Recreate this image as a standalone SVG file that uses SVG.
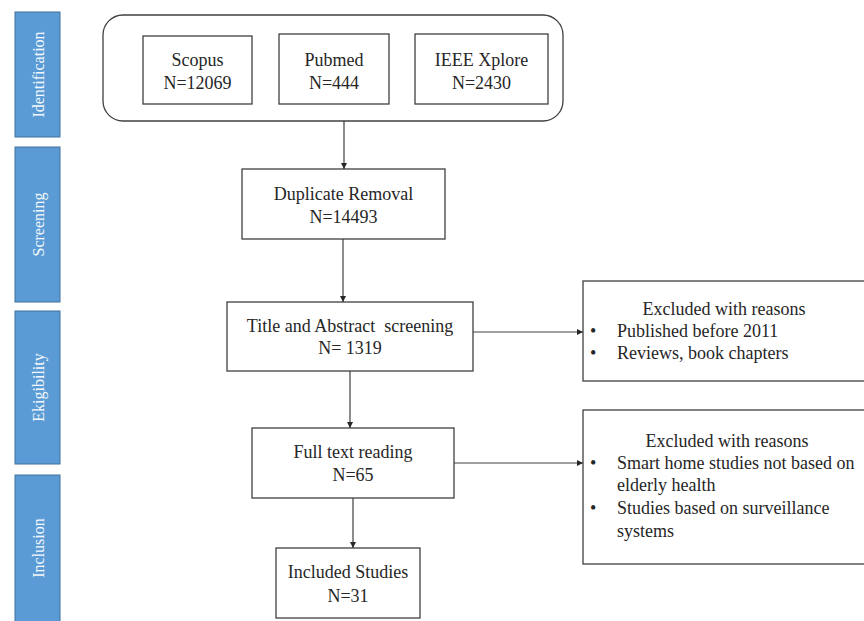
<svg xmlns="http://www.w3.org/2000/svg" width="864" height="621" viewBox="0 0 864 621">
  <defs>
    <style>
      .stage { fill: #5b9bd5; stroke: #41719c; stroke-width: 1; }
      .stagetxt { font-family: "Liberation Serif", "DejaVu Serif", serif; font-size: 16px; fill: #f4f8fc; text-anchor: middle; dominant-baseline: central; }
      .box { fill: #ffffff; stroke: #404040; stroke-width: 1.3; }
      .txt { font-family: "Liberation Serif", "Times New Roman", serif; font-size: 18px; fill: #262626; text-anchor: middle; }
      .ltxt { font-family: "Liberation Serif", "Times New Roman", serif; font-size: 18px; fill: #262626; }
      .conn { stroke: #404040; stroke-width: 1.2; fill: none; }
    </style>
    <marker id="arrow" viewBox="0 0 10 10" refX="10" refY="5" markerWidth="6" markerHeight="6" orient="auto" markerUnits="userSpaceOnUse">
      <path d="M0,0 L10,5 L0,10 z" fill="#262626"/>
    </marker>
  </defs>
  <rect width="864" height="621" fill="#ffffff"/>

  <g id="stage-identification">
    <rect class="stage" x="15" y="12" width="45" height="125"/>
    <text class="stagetxt" transform="translate(38,74.5) rotate(-90)">Identification</text>
  </g>
  <g id="stage-screening">
    <rect class="stage" x="15" y="147" width="45" height="155"/>
    <text class="stagetxt" transform="translate(38,224.5) rotate(-90)">Screening</text>
  </g>
  <g id="stage-eligibility">
    <rect class="stage" x="15" y="311" width="45" height="153"/>
    <text class="stagetxt" transform="translate(38,387.5) rotate(-90)">Ekigibility</text>
  </g>
  <g id="stage-inclusion">
    <rect class="stage" x="15" y="475" width="45" height="150"/>
    <text class="stagetxt" transform="translate(38,548) rotate(-90)">Inclusion</text>
  </g>

  <g id="sources">
    <rect class="box" x="103" y="15" width="460" height="106" rx="20" ry="20"/>
  </g>
  <g id="scopus">
    <rect class="box" x="143" y="36" width="109" height="68"/>
    <text class="txt" x="197.5" y="66">Scopus</text>
    <text class="txt" x="197.5" y="89">N=12069</text>
  </g>
  <g id="pubmed">
    <rect class="box" x="279" y="34" width="110" height="70"/>
    <text class="txt" x="334" y="66">Pubmed</text>
    <text class="txt" x="334" y="89">N=444</text>
  </g>
  <g id="ieee">
    <rect class="box" x="415" y="34" width="133" height="70"/>
    <text class="txt" x="481.5" y="66">IEEE Xplore</text>
    <text class="txt" x="481.5" y="89">N=2430</text>
  </g>

  <g id="duplicate">
    <rect class="box" x="242" y="169" width="203" height="70"/>
    <text class="txt" x="343.5" y="200">Duplicate Removal</text>
    <text class="txt" x="343.5" y="223">N=14493</text>
  </g>
  <g id="title-abstract">
    <rect class="box" x="227" y="302" width="246" height="69"/>
    <text class="txt" x="350" y="332" xml:space="preserve">Title and Abstract  screening</text>
    <text class="txt" x="350" y="354">N= 1319</text>
  </g>
  <g id="fulltext">
    <rect class="box" x="252" y="428" width="202" height="70"/>
    <text class="txt" x="353" y="458">Full text reading</text>
    <text class="txt" x="353" y="481">N=65</text>
  </g>
  <g id="included">
    <rect class="box" x="276" y="548" width="144" height="70"/>
    <text class="txt" x="348" y="578">Included  Studies</text>
    <text class="txt" x="348" y="602">N=31</text>
  </g>

  <g id="excluded-1">
    <rect class="box" x="583" y="281" width="285" height="100"/>
    <text class="txt" x="724" y="315">Excluded  with reasons</text>
    <text class="ltxt" x="590" y="337">•</text>
    <text class="ltxt" x="617" y="337">Published before 2011</text>
    <text class="ltxt" x="590" y="359">•</text>
    <text class="ltxt" x="617" y="359">Reviews, book chapters</text>
  </g>
  <g id="excluded-2">
    <rect class="box" x="583" y="410" width="285" height="154"/>
    <text class="txt" x="727" y="447">Excluded  with reasons</text>
    <text class="ltxt" x="590" y="469">•</text>
    <text class="ltxt" x="617" y="469">Smart home studies not based on</text>
    <text class="ltxt" x="617" y="491">elderly  health</text>
    <text class="ltxt" x="590" y="514">•</text>
    <text class="ltxt" x="617" y="514">Studies based on surveillance</text>
    <text class="ltxt" x="617" y="537">systems</text>
  </g>

  <g id="connectors">
    <line class="conn" x1="344" y1="121" x2="344" y2="169" marker-end="url(#arrow)"/>
    <line class="conn" x1="343" y1="239" x2="343" y2="302" marker-end="url(#arrow)"/>
    <line class="conn" x1="350" y1="371" x2="350" y2="428" marker-end="url(#arrow)"/>
    <line class="conn" x1="353" y1="498" x2="353" y2="548" marker-end="url(#arrow)"/>
    <line class="conn" x1="473" y1="332" x2="583" y2="332" marker-end="url(#arrow)"/>
    <line class="conn" x1="454" y1="463" x2="583" y2="463" marker-end="url(#arrow)"/>
  </g>
</svg>
